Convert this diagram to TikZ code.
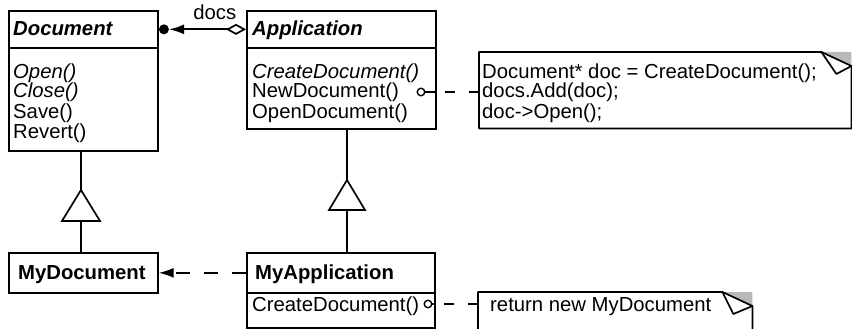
\documentclass[tikz,border=0pt]{standalone}
\usepackage{fontspec}
\setmainfont{Liberation Sans}
\usetikzlibrary{arrows.meta,calc}
\begin{document}
\begin{tikzpicture}[x=1pt,y=-1pt,
  ln/.style={line width=1.7pt},
  box/.style={draw,line width=1.7pt,rectangle,inner sep=0pt,anchor=north west},
  lbl/.style={anchor=base west,inner sep=0pt,font=\fontsize{20.3}{20}\selectfont},
  hd/.style={anchor=base west,inner sep=0pt,font=\fontsize{20.3}{20}\selectfont\bfseries\itshape},
  hdb/.style={anchor=base west,inner sep=0pt,font=\fontsize{20.3}{20}\selectfont\bfseries},
  itl/.style={anchor=base west,inner sep=0pt,font=\fontsize{20.3}{20}\selectfont\itshape},
  dsh/.style={line width=1.7pt,dash pattern=on 10pt off 14pt},
  pin/.style={circle,draw,line width=1.4pt,minimum size=7.5pt,inner sep=0pt},
  foldfill/.style={fill=gray!55},
  notebox/.style={anchor=north west,inner sep=0pt},
]
\useasboundingbox (0,0) rectangle (852,329);
\clip (0,0) rectangle (852,329);

% Document
\node[box,minimum width=149pt,minimum height=37pt] (docH) at (8,10) {};
\node[box,minimum width=149pt,minimum height=103pt] (docB) at (8,47) {};
\node[hd] (docT) at (13,36) {Document};
\node[itl] (open) at (13,78) {Open()};
\node[itl] (close) at (13,98) {Close()};
\node[lbl] (save) at (13,118) {Save()};
\node[lbl] (revert) at (13,138) {Revert()};

% Application
\node[box,minimum width=189pt,minimum height=37pt] (appH) at (246,10) {};
\node[box,minimum width=189pt,minimum height=81pt] (appB) at (246,47) {};
\node[hd] (appT) at (252,36) {Application};
\node[itl] (cd) at (252,78) {CreateDocument()};
\node[lbl] (nd) at (252,98) {NewDocument()};
\node[lbl] (od) at (252,118) {OpenDocument()};
\node[pin] (pin1) at (421,92) {};

% aggregation
\node[circle,fill,inner sep=0pt,minimum size=10pt,anchor=west] (dot) at (docH.east) {};
\draw[ln,{Diamond[open,length=20pt,width=11pt]}-{Latex[length=15pt,width=10pt]}] (appH.west) -- (dot.east)
  node[pos=0.405,anchor=base,yshift=9.5pt,inner sep=0pt,font=\fontsize{20.3}{20}\selectfont] (docs) {docs};

% note 1
\node[notebox,minimum width=372pt,minimum height=76pt] (note1) at (479,52) {};
\coordinate (n1A) at ($(note1.north east)+(-30,0)$);
\coordinate (n1B) at ($(note1.north east)+(0,14)$);
\coordinate (n1C) at ($(note1.north east)+(-15,22)$);
\fill[foldfill] (n1A) -- (note1.north east) -- (n1B) -- cycle;
\draw[ln,line join=round] (note1.north west) -- (n1A) -- (n1B) -- (note1.south east) -- (note1.south west) -- cycle;
\draw[ln,line join=round] (n1A) -- (n1C) -- (n1B);
\node[lbl] (n1a) at (482,78) {Document* doc = CreateDocument();};
\node[lbl] (n1b) at (482,98) {docs.Add(doc);};
\node[lbl] (n1c) at (482,118) {doc->Open();};
\draw[ln] (pin1.east) -- (pin1.east -| appB.east);
\draw[dsh] (note1.west |- pin1) -- (appB.east |- pin1);

% MyDocument
\node[box,minimum width=149pt,minimum height=40pt] (mydoc) at (8,252) {};
\node[hdb] (mydocT) at (18,279) {MyDocument};

% MyApplication
\node[box,minimum width=188pt,minimum height=35pt] (myappB) at (246,292) {};
\node[box,minimum width=188pt,minimum height=40pt] (myappH) at (246,252) {};
\node[hdb] (myappT) at (255,279) {MyApplication};
\node[lbl] (cd2) at (252,311) {CreateDocument()};
\node[pin] (pin2) at (428,304) {};
\draw[ln] (pin2.east) -- (pin2.east -| myappB.east);

% note 2
\node[notebox,minimum width=274pt,minimum height=60pt] (note2) at (478,292) {};
\coordinate (n2A) at ($(note2.north east)+(-30,0)$);
\coordinate (n2B) at ($(note2.north east)+(0,14)$);
\coordinate (n2C) at ($(note2.north east)+(-19,22)$);
\fill[foldfill] (n2A) -- (note2.north east) -- (n2B) -- cycle;
\draw[ln,line join=round] (note2.south west) -- (note2.north west) -- (n2A) -- (n2B) -- (note2.south east);
\draw[ln,line join=round] (n2A) -- (n2C) -- (n2B);
\node[lbl] (n2t) at (490,311) {return new MyDocument};
\draw[dsh] (note2.west |- pin2) -- (myappB.east |- pin2);

% creation dependency
\draw[ln,dash pattern=on 14pt off 14pt,-{Latex[length=15pt,width=10pt]}] (myappH.west) -- (mydoc.east);

% inheritance Document
\coordinate (t1) at (81,190);
\coordinate (t1b) at ($(t1)+(0,31)$);
\draw[ln] (t1 |- docB.south) -- (t1);
\draw[ln,line join=miter] (t1) -- ++(-19,31) -- ++(38,0) -- cycle;
\draw[ln] (t1b) -- (t1 |- mydoc.north);

% inheritance Application
\coordinate (t2) at (347,180);
\coordinate (t2b) at ($(t2)+(0,30)$);
\draw[ln] (t2 |- appB.south) -- (t2);
\draw[ln,line join=miter] (t2) -- ++(-18,30) -- ++(36,0) -- cycle;
\draw[ln] (t2b) -- (t2 |- myappH.north);
\end{tikzpicture}
\end{document}
